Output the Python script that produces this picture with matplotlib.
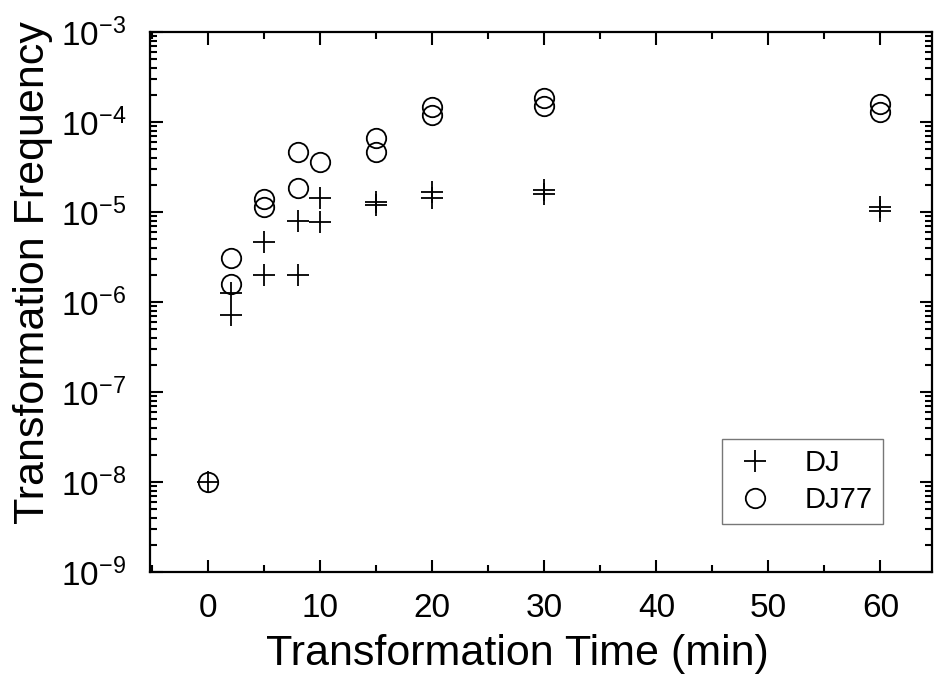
import matplotlib
matplotlib.use("Agg")
import matplotlib.pyplot as plt
from matplotlib.ticker import LogLocator, MultipleLocator, FixedLocator, FixedFormatter

plt.rcParams['font.family'] = ['Liberation Sans', 'DejaVu Sans']
plt.rcParams['mathtext.default'] = 'regular'

# transformation time (min) and frequency for each strain
dj_time = [0, 2, 2, 5, 5, 8, 8, 10, 10, 15, 15, 20, 20, 30, 30, 60, 60]
dj_freq = [1e-8, 1.26e-6, 7.2e-7, 4.6e-6, 2.0e-6, 7.9e-6, 2.0e-6, 1.43e-5, 7.8e-6,
           1.3e-5, 1.2e-5, 1.67e-5, 1.43e-5, 1.75e-5, 1.6e-5, 1.14e-5, 1.03e-5]

dj77_time = [0, 2, 2, 5, 5, 8, 8, 10, 15, 15, 20, 20, 30, 30, 60, 60]
dj77_freq = [1e-8, 3.1e-6, 1.6e-6, 1.4e-5, 1.15e-5, 4.6e-5, 1.85e-5, 3.6e-5,
             6.6e-5, 4.6e-5, 1.47e-4, 1.2e-4, 1.85e-4, 1.5e-4, 1.6e-4, 1.3e-4]

x_ticks = [0, 10, 20, 30, 40, 50, 60]
y_exps = [-9, -8, -7, -6, -5, -4, -3]

fig = plt.figure(figsize=(9.41, 6.77), dpi=100)
ax = fig.add_axes([150 / 941, 1 - 572 / 677, 782 / 941, 540 / 677])

ax.plot(dj_time, dj_freq, linestyle='none', marker='+', markersize=16,
        markeredgewidth=1.3, color='black', label='DJ')
ax.plot(dj77_time, dj77_freq, linestyle='none', marker='o', markersize=14,
        markeredgewidth=1.3, markerfacecolor='none', color='black', label='DJ77')

ax.set_yscale('log')
ax.set_ylim(1e-9, 1e-3)
ax.set_xlim(-5.2, 64.6)

ax.xaxis.set_major_locator(FixedLocator(x_ticks))
ax.xaxis.set_minor_locator(MultipleLocator(5))
ax.yaxis.set_major_locator(FixedLocator([10.0 ** e for e in y_exps]))
ax.yaxis.set_major_formatter(FixedFormatter(['$10^{%d}$' % e for e in y_exps]))
ax.yaxis.set_minor_locator(LogLocator(base=10, subs=range(2, 10), numticks=20))

ax.tick_params(which='both', direction='in', top=True, right=True, width=1.5)
ax.tick_params(which='major', length=9, labelsize=24)
ax.tick_params(axis='x', which='major', pad=15)
ax.tick_params(axis='y', which='major', pad=17)
ax.tick_params(which='minor', length=5)
for s in ax.spines.values():
    s.set_linewidth(1.6)

ax.set_xlabel('Transformation Time (min)', fontsize=31)
ax.set_ylabel('Transformation Frequency', fontsize=31)
ax.xaxis.set_label_coords(0.47, -0.115)
ax.yaxis.set_label_coords(-0.124, 0.555)

leg = ax.legend(loc='upper right', bbox_to_anchor=(0.9373, 0.2463), fontsize=21,
                frameon=True, fancybox=False, edgecolor='#555555', borderaxespad=0,
                handletextpad=0.9, borderpad=0.35, labelspacing=0.3, handlelength=1.6)
leg.get_frame().set_linewidth(1.0)

fig.savefig('out.png', dpi=100)
